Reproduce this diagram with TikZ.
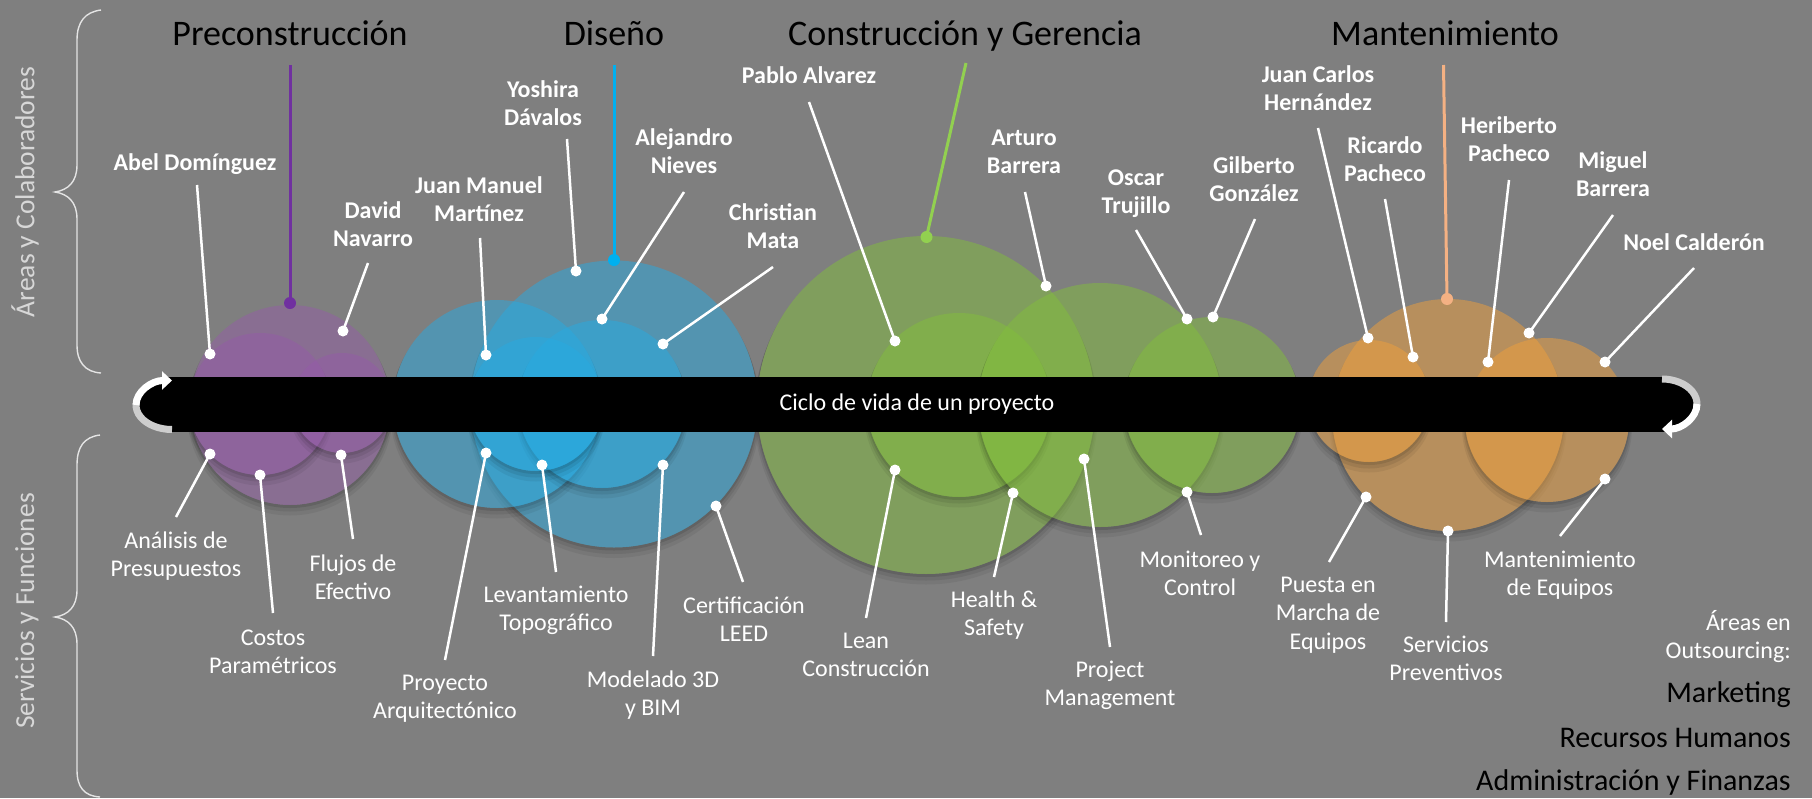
\documentclass[tikz,border=0pt]{standalone}
\usepackage{fontspec}
\setmainfont{Carlito}
\usetikzlibrary{arrows.meta}
\definecolor{bg}{RGB}{127,127,127}
\definecolor{cpur}{RGB}{150,90,170}
\definecolor{cblu}{RGB}{40,170,225}
\definecolor{cgrn}{RGB}{130,190,60}
\definecolor{corg}{RGB}{240,160,60}
\definecolor{lpur}{RGB}{112,48,160}
\definecolor{lblu}{RGB}{0,176,240}
\definecolor{lgrn}{RGB}{146,208,80}
\definecolor{lorg}{RGB}{244,177,131}
\definecolor{bracecol}{RGB}{228,228,228}
\definecolor{sidecol}{RGB}{215,215,215}
\definecolor{arrgray}{RGB}{205,205,205}
\newcommand{\ctab}[1]{\begin{tabular}[t]{@{}c@{}}#1\end{tabular}}
\newcommand{\rtab}[1]{\begin{tabular}[t]{@{}r@{}}#1\end{tabular}}
% bubble with soft drop shadow outside it: cx, cy, r, style
\newcommand{\bub}[4]{%
  \begin{scope}
    \clip (0,0) -- (0,798) -- (1812,798) -- (1812,0) -- cycle
      (#1+#3,#2) arc[start angle=0, end angle=-360, radius=#3pt];
    \fill[black, opacity=0.09] (#1,#2+2) circle[radius=#3pt+1pt];
    \fill[black, opacity=0.08] (#1,#2+4.5) circle[radius=#3pt+2pt];
    \fill[black, opacity=0.06] (#1,#2+7.5) circle[radius=#3pt+3pt];
  \end{scope}
  \fill[#4] (#1,#2) circle[radius=#3pt];}
\tikzset{
  wdot/.style={circle, fill=white, inner sep=0pt, minimum size=11pt},
  wline/.style={white, line width=2.5pt},
  nmlbl/.style={text=white, font=\fontsize{24}{28.5}\selectfont\bfseries, anchor=base, inner sep=0pt},
  svlbl/.style={text=white, font=\fontsize{24}{28.5}\selectfont, anchor=base, inner sep=0pt},
  ttl/.style={text=black, font=\fontsize{36}{43}\selectfont, anchor=base, inner sep=0pt},
  outs/.style={text=black, font=\fontsize{30}{36}\selectfont, anchor=base east, inner sep=0pt},
  sidelbl/.style={text=sidecol, font=\fontsize{27.5}{33}\selectfont, rotate=90, inner sep=0pt},
  bracestyle/.style={bracecol, line width=1.4pt},
  pfill/.style={fill=cpur, fill opacity=0.45},
  bfill/.style={fill=cblu, fill opacity=0.5},
  gfill/.style={fill=cgrn, fill opacity=0.5},
  ofill/.style={fill=corg, fill opacity=0.5},
}
\begin{document}
\begin{tikzpicture}[x=1pt,y=-1pt]
\fill[bg] (0,0) rectangle (1812,798);
\useasboundingbox (0,0) rectangle (1812,798);

% braces and side labels
\draw[bracestyle] (101,10) .. controls (85,12) and (77,22) .. (77,40) -- (77,165)
  .. controls (77,182) and (68,190) .. (55,192) .. controls (68,194) and (77,202) .. (77,219)
  -- (77,345) .. controls (77,362) and (85,372) .. (101,373);
\draw[bracestyle] (100,435) .. controls (84,437) and (77,447) .. (77,465) -- (77,590)
  .. controls (77,607) and (68,615) .. (55,617) .. controls (68,619) and (77,627) .. (77,644)
  -- (77,770) .. controls (77,787) and (84,796) .. (100,797);
\node[sidelbl] (tAreas) at (25,192) {Áreas y Colaboradores};
\node[sidelbl] (tServ) at (27,611) {Servicios y Funciones};

% circles: purple
\bub{290}{405}{100}{pfill}
\bub{260}{404}{71}{pfill}
\bub{342}{403}{50}{pfill}
% blue
\bub{614}{404}{143.5}{bfill}
\bub{497}{404}{104}{bfill}
\bub{602}{404}{84}{bfill}
\bub{536}{404}{67}{bfill}
% green
\bub{926}{405}{169}{gfill}
\bub{959}{405}{92}{gfill}
\bub{1100}{405}{122}{gfill}
\bub{1212}{405}{88}{gfill}
% orange
\bub{1448}{415}{116}{ofill}
\bub{1369}{401}{61}{ofill}
\bub{1547}{420}{82}{ofill}

% bar
\fill[black] (172,432) arc[start angle=270, end angle=90, x radius=34pt, y radius=27.5pt];
\fill[black] (1662,377) arc[start angle=90, end angle=-90, x radius=33pt, y radius=27.5pt];
\node[fill=black, minimum width=1490pt, minimum height=55pt, inner sep=0pt, text=white,
  font=\fontsize{24}{29}\selectfont] (bar) at (917,404.5) {Ciclo de vida de un proyecto};
% curved arrows at ends
\draw[arrgray, line width=7pt] (172,429.5) arc[start angle=270, end angle=176, x radius=36pt, y radius=24.5pt];
\draw[white, line width=7pt, -{Triangle[width=18pt,length=10pt]}] (136,405) arc[start angle=180, end angle=90, x radius=36pt, y radius=24.5pt];
\draw[arrgray, line width=7pt] (1662,379) arc[start angle=90, end angle=-4, x radius=35pt, y radius=25pt];
\draw[white, line width=7pt, -{Triangle[width=18pt,length=10pt]}] (1697,404) arc[start angle=0, end angle=-90, x radius=35pt, y radius=25pt];

% titles and coloured lines
\node[ttl] (tPre) at (290,45) {Preconstrucción};
\node[ttl] (tDis) at (614,45) {Diseño};
\node[ttl] (tCon) at (965,45) {Construcción y Gerencia};
\node[ttl] (tMan) at (1445,45) {Mantenimiento};
\coordinate (lPre) at (290,65);
\coordinate (lDis) at (614,65);
\coordinate (lCon) at (966,63);
\coordinate (lMan) at (1443.5,65);
\node[circle, fill=lpur, inner sep=0pt, minimum size=12pt] (dPre) at (290,303) {};
\node[circle, fill=lblu, inner sep=0pt, minimum size=12pt] (dDis) at (614,260) {};
\node[circle, fill=lgrn, inner sep=0pt, minimum size=12pt] (dCon) at (926.5,237) {};
\node[circle, fill=lorg, inner sep=0pt, minimum size=12pt] (dMan) at (1447,299) {};
\draw[lpur, line width=3pt] (lPre) -- (dPre.center);
\draw[lblu, line width=3pt] (lDis) -- (dDis.center);
\draw[lgrn, line width=3pt] (lCon) -- (dCon.center);
\draw[lorg, line width=3pt] (lMan) -- (dMan.center);

% name labels (top)
\node[nmlbl] (nAbel) at (195,170) {Abel Domínguez};
\node[nmlbl] (nDavid) at (373,218) {\ctab{David\\Navarro}};
\node[nmlbl] (nJuanM) at (479,193) {\ctab{Juan Manuel\\Martínez}};
\node[nmlbl] (nYosh) at (543,97) {\ctab{Yoshira\\Dávalos}};
\node[nmlbl] (nAlej) at (684,145) {\ctab{Alejandro\\Nieves}};
\node[nmlbl] (nChris) at (773,220) {\ctab{Christian\\Mata}};
\node[nmlbl] (nPablo) at (809,83) {Pablo Alvarez};
\node[nmlbl] (nArt) at (1024,145) {\ctab{Arturo\\Barrera}};
\node[nmlbl] (nOsc) at (1136,185) {\ctab{Oscar\\Trujillo}};
\node[nmlbl] (nGil) at (1254,173) {\ctab{Gilberto\\González}};
\node[nmlbl] (nJuanC) at (1318,82) {\ctab{Juan Carlos\\Hernández}};
\node[nmlbl] (nRic) at (1385,153) {\ctab{Ricardo\\Pacheco}};
\node[nmlbl] (nHer) at (1509,133) {\ctab{Heriberto\\Pacheco}};
\node[nmlbl] (nMig) at (1613,168) {\ctab{Miguel\\Barrera}};
\node[nmlbl] (nNoel) at (1694,250) {Noel Calderón};

% service labels (bottom)
\node[svlbl] (sAna) at (176,548) {\ctab{Análisis de\\Presupuestos}};
\node[svlbl] (sCos) at (273,645) {\ctab{Costos\\Paramétricos}};
\node[svlbl] (sFlu) at (353,571) {\ctab{Flujos de\\Efectivo}};
\node[svlbl] (sPro) at (445,690) {\ctab{Proyecto\\Arquitectónico}};
\node[svlbl] (sLev) at (556,602) {\ctab{Levantamiento\\Topográfico}};
\node[svlbl] (sMod) at (653,687) {\ctab{Modelado 3D\\y BIM}};
\node[svlbl] (sCer) at (744,613) {\ctab{Certificación\\LEED}};
\node[svlbl] (sLea) at (866,648) {\ctab{Lean\\Construcción}};
\node[svlbl] (sHea) at (994,607) {\ctab{Health \&\\Safety}};
\node[svlbl] (sPrj) at (1110,677) {\ctab{Project\\Management}};
\node[svlbl] (sMon) at (1200,567) {\ctab{Monitoreo y\\Control}};
\node[svlbl] (sPue) at (1328,592) {\ctab{Puesta en\\Marcha de\\Equipos}};
\node[svlbl] (sSer) at (1446,652) {\ctab{Servicios\\Preventivos}};
\node[svlbl] (sMan) at (1560,567) {\ctab{Mantenimiento\\de Equipos}};

% outsourcing
\node[svlbl, anchor=base east] (oAreas) at (1791,630) {\rtab{Áreas en\\Outsourcing:}};
\node[outs] (oMk) at (1791,702) {Marketing};
\node[outs] (oRH) at (1791,747) {Recursos Humanos};
\node[outs] (oAF) at (1791,790) {Administración y Finanzas};

% connector ends
\coordinate (aAbel) at (197,185);   \coordinate (aDavid) at (368,263);
\coordinate (aJuanM) at (480,238);  \coordinate (aYosh) at (567,139);
\coordinate (aAlej) at (684,192);   \coordinate (aChris) at (773,267);
\coordinate (aPablo) at (809,102);  \coordinate (aArt) at (1025,192);
\coordinate (aOsc) at (1136,230);   \coordinate (aGil) at (1255,219);
\coordinate (aJuanC) at (1318,128); \coordinate (aRic) at (1385,199);
\coordinate (aHer) at (1509,180);   \coordinate (aMig) at (1613,215);
\coordinate (aNoel) at (1694,268);
\coordinate (bAna) at (176,517);    \coordinate (bCos) at (273,613);
\coordinate (bFlu) at (353,539);    \coordinate (bPro) at (445,660);
\coordinate (bLev) at (556,572);    \coordinate (bMod) at (653,656);
\coordinate (bCer) at (743,582);    \coordinate (bLea) at (866,618);
\coordinate (bHea) at (994,577);    \coordinate (bPrj) at (1110,647);
\coordinate (bMon) at (1201,535);   \coordinate (bPue) at (1329,562);
\coordinate (bSer) at (1446,622);   \coordinate (bMan) at (1560,536);

% dots
\node[wdot] (dAbel) at (210,354) {};   \node[wdot] (dDavid) at (343,331) {};
\node[wdot] (dJuanM) at (486,355) {};  \node[wdot] (dYosh) at (576,271) {};
\node[wdot] (dAlej) at (602,319) {};   \node[wdot] (dChris) at (663,344) {};
\node[wdot] (dPablo) at (895,341) {};  \node[wdot] (dArt) at (1046,286) {};
\node[wdot] (dOsc) at (1187,319) {};   \node[wdot] (dGil) at (1213,317) {};
\node[wdot] (dJuanC) at (1368,338) {}; \node[wdot] (dRic) at (1413,357) {};
\node[wdot] (dHer) at (1488,362) {};   \node[wdot] (dMig) at (1529,333) {};
\node[wdot] (dNoel) at (1605,362) {};
\node[wdot] (dAna) at (210,454) {};    \node[wdot] (dCos) at (260,475) {};
\node[wdot] (dFlu) at (341,455) {};    \node[wdot] (dPro) at (486,453) {};
\node[wdot] (dLev) at (542,465) {};    \node[wdot] (dMod) at (663,465) {};
\node[wdot] (dCer) at (716,506) {};    \node[wdot] (dLea) at (895,470) {};
\node[wdot] (dHea) at (1013,493) {};   \node[wdot] (dPrj) at (1084,459) {};
\node[wdot] (dMon) at (1187,492) {};   \node[wdot] (dPue) at (1366,497) {};
\node[wdot] (dSer) at (1448,531) {};   \node[wdot] (dMan) at (1605,479) {};

% connectors
\foreach \k in {Abel,David,JuanM,Yosh,Alej,Chris,Pablo,Art,Osc,Gil,JuanC,Ric,Her,Mig,Noel}
  \draw[wline] (a\k) -- (d\k.center);
\foreach \k in {Ana,Cos,Flu,Pro,Lev,Mod,Cer,Lea,Hea,Prj,Mon,Pue,Ser,Man}
  \draw[wline] (b\k) -- (d\k.center);
\end{tikzpicture}
\end{document}
